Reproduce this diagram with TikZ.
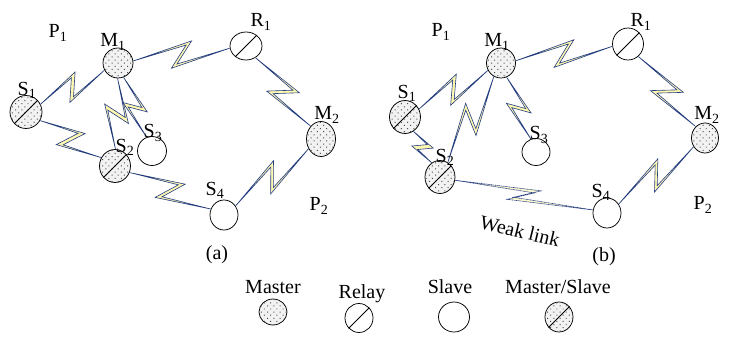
\documentclass[tikz,border=0pt]{standalone}
\usepackage{fontspec}
\setmainfont{Liberation Serif}
\usetikzlibrary{shapes.geometric,patterns.meta,calc}

\definecolor{linkblue}{RGB}{34,60,130}
\definecolor{linkfill}{RGB}{255,248,175}

\tikzset{
  dev/.style={ellipse, draw, line width=0.75pt, inner sep=0pt, fill=white},
  dotted fill/.style={fill=gray!10,
    postaction={pattern={Dots[distance=4.4pt, radius=0.7pt, angle=45]}, pattern color=black!70}},
  master/.style={dev, dotted fill},
  slave/.style={dev},
  relay/.style={dev},
  lbl/.style={font=\fontsize{20}{22}\selectfont, inner sep=0pt},
  zbline/.style={draw=linkblue, fill=linkfill, line width=0.6pt, line join=miter},
  zbextra/.style={}
}

% keys of a lightning link: forward/back corner positions and sideways throw
\pgfkeys{/zb/.is family, /zb,
  tp/.store in=\zbtp, tq/.store in=\zbtq, h/.store in=\zbh,
  style/.code={\tikzset{zbextra/.style={#1}}},
  tp=0.59, tq=0.41, h=10.5}

% lightning-shaped radio link between two nodes
\newcommand\zbolt[3][]{%
  \begingroup
  \pgfkeys{/zb,#1}%
  \path (#2) -- (#3) coordinate[pos=0] (zA) coordinate[pos=1] (zB);
  \path let \p1=(zA), \p2=(zB) in \pgfextra{%
    \pgfmathsetmacro\zang{atan2(\y2-\y1,\x2-\x1)}%
    \pgfmathsetmacro\zlen{veclen(\x2-\x1,\y2-\y1)}%
    \xdef\zang{\zang}\xdef\zlen{\zlen}};
  \begin{scope}[shift={(zA)}, rotate=\zang, x=1pt, y=1pt]
    \filldraw[zbline, zbextra]
      (0,0)
      -- ({\zbtp*\zlen-3}, {\zbh-1.7})
      -- ({\zbtq*\zlen-3}, {-\zbh-1.7})
      -- (\zlen,0)
      -- ({\zbtq*\zlen+3}, {-\zbh+1.7})
      -- ({\zbtp*\zlen+3}, {\zbh+1.7})
      -- cycle;
  \end{scope}
  \endgroup}

% diagonal stroke of relay and master/slave devices
\newcommand\devslash[1]{\draw[line width=0.75pt] (#1.225) -- (#1.45);}

\begin{document}
\begin{tikzpicture}[x=1pt, y=-1pt]
\useasboundingbox[fill=white] (0,0) rectangle (729,337);

% ---------- (a) ----------
\node[master, minimum width=30pt, minimum height=30pt] (aM1) at (118,63) {};
\node[relay,  minimum width=32pt, minimum height=28pt] (aR1) at (246,46) {};
\node[master, minimum width=32pt, minimum height=33pt] (aS1) at (26,112) {};
\node[master, minimum width=31pt, minimum height=33pt] (aS2) at (115,166) {};
\node[slave,  minimum width=29pt, minimum height=29pt] (aS3) at (152,151) {};
\node[master, minimum width=29pt, minimum height=35pt] (aM2) at (321,139) {};
\node[slave,  minimum width=28pt, minimum height=30pt] (aS4) at (224,215) {};
\devslash{aR1}\devslash{aS1}\devslash{aS2}

\zbolt{aM1}{aR1}
\zbolt{aR1}{aM2}
\zbolt{aM2}{aS4}
\zbolt{aS1}{aM1}
\zbolt{aM1}{aS2}
\zbolt[h=8]{aM1}{aS3}
\zbolt{aS1}{aS2}
\zbolt{aS2}{aS4}

\node[lbl] (aP1l) at (58,33) {P\textsubscript{1}};
\node[lbl] (aM1l) at (113,42) {M\textsubscript{1}};
\node[lbl] (aR1l) at (261,22) {R\textsubscript{1}};
\node[lbl] (aS1l) at (27,90) {S\textsubscript{1}};
\node[lbl] (aS2l) at (125,147) {S\textsubscript{2}};
\node[lbl] (aS3l) at (153,133) {S\textsubscript{3}};
\node[lbl] (aM2l) at (327,115) {M\textsubscript{2}};
\node[lbl] (aS4l) at (215,190) {S\textsubscript{4}};
\node[lbl] (aP2l) at (319,206) {P\textsubscript{2}};
\node[lbl] (acap) at (217,255) {(a)};

% ---------- (b) ----------
\node[master, minimum width=29pt, minimum height=30pt] (bM1) at (501,63) {};
\node[relay,  minimum width=31pt, minimum height=32pt] (bR1) at (628,44) {};
\node[master, minimum width=31pt, minimum height=33pt] (bS1) at (405,117) {};
\node[master, minimum width=30pt, minimum height=33pt] (bS2) at (440,177) {};
\node[slave,  minimum width=28pt, minimum height=27pt] (bS3) at (536,152) {};
\node[master, minimum width=27pt, minimum height=30pt] (bM2) at (705,138) {};
\node[slave,  minimum width=28pt, minimum height=30pt] (bS4) at (607,213) {};
\devslash{bR1}\devslash{bS1}\devslash{bS2}

\zbolt{bM1}{bR1}
\zbolt{bR1}{bM2}
\zbolt{bM2}{bS4}
\zbolt{bS1}{bM1}
\zbolt{bM1}{bS2}
\zbolt[h=8]{bM1}{bS3}
\zbolt[h=7]{bS1}{bS2}
\zbolt[h=6, style={dash pattern=on 0.9pt off 0.5pt, fill=linkfill!60}]{bS2}{bS4}

\node[lbl] (bP1l) at (441,32) {P\textsubscript{1}};
\node[lbl] (bM1l) at (497,42) {M\textsubscript{1}};
\node[lbl] (bR1l) at (641,22) {R\textsubscript{1}};
\node[lbl] (bS1l) at (407,93) {S\textsubscript{1}};
\node[lbl] (bS2l) at (445,157) {S\textsubscript{2}};
\node[lbl] (bS3l) at (539,135) {S\textsubscript{3}};
\node[lbl] (bM2l) at (707,115) {M\textsubscript{2}};
\node[lbl] (bS4l) at (601,192) {S\textsubscript{4}};
\node[lbl] (bP2l) at (703,205) {P\textsubscript{2}};
\node[lbl, rotate=-13.6] (weak) at (520,231) {Weak link};
\node[lbl] (bcap) at (604,257) {(b)};

% ---------- legend ----------
\node[lbl, anchor=base] (kMt) at (273,293) {Master};
\node[lbl, anchor=base] (kRt) at (362,298) {Relay};
\node[lbl, anchor=base] (kSt) at (450,293) {Slave};
\node[lbl, anchor=base] (kXt) at (558,293) {Master/Slave};
\node[master, minimum width=28pt, minimum height=26pt] (kM) at (273,312) {};
\node[relay,  minimum width=28pt, minimum height=29pt] (kR) at (359,318) {};
\node[slave,  minimum width=31pt, minimum height=30pt] (kS) at (454,317) {};
\node[master, minimum width=28pt, minimum height=30pt] (kX) at (559,317) {};
\devslash{kR}\devslash{kX}
\end{tikzpicture}
\end{document}
